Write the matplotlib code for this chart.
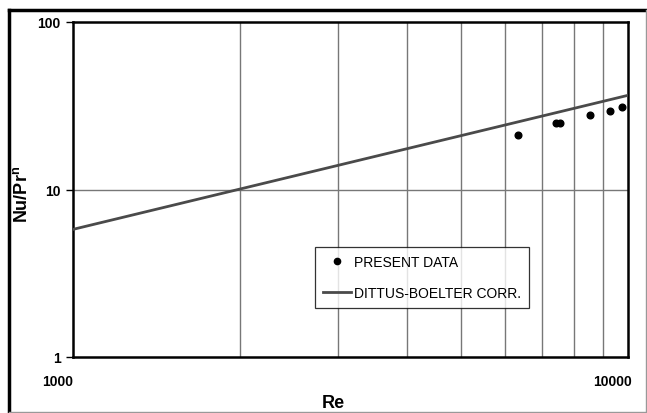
import matplotlib.pyplot as plt
import matplotlib.transforms as mtransforms
from matplotlib.lines import Line2D

plt.rcParams['font.family'] = ['Liberation Sans', 'DejaVu Sans']

# measured points
re_data = [6340, 7410, 7540, 8540, 9280, 9750]
nu_data = [21.2, 24.9, 24.9, 27.8, 29.4, 31.1]

# Dittus-Boelter correlation, 0.023 Re^0.8 (straight on log-log)
re_corr = [1000, 10000]
nu_corr = [5.78, 36.5]

W, H = 647, 414
fig = plt.figure(figsize=(W / 100, H / 100), dpi=100)
ax = fig.add_axes([73 / W, 1 - 358 / H, 555 / W, 335 / H])

ax.set_xscale('log')
ax.set_yscale('log')
ax.set_xlim(1000, 10000)
ax.set_ylim(1, 100)

# grid: vertical at every 1000, horizontal only at 10
for x in range(2000, 10000, 1000):
    ax.axvline(x, color='#777777', lw=1.0, zorder=1)
ax.axhline(10, color='#777777', lw=1.0, zorder=1)

ax.plot(re_corr, nu_corr, color='#4a4a4a', lw=2.0, zorder=3)
ax.plot(re_data, nu_data, 'o', color='black', ms=4.8, zorder=4,
        linestyle='none')

for s in ax.spines.values():
    s.set_linewidth(1.8)
    s.set_color('black')

ax.set_xticks([1000, 10000])
ax.set_xticklabels(['1000', '10000'])
ax.set_yticks([1, 10, 100])
ax.set_yticklabels(['1', '10', '100'])
ax.minorticks_off()
ax.tick_params(axis='x', length=0, pad=12, labelsize=10)
ax.tick_params(axis='y', direction='out', length=5, width=1, pad=4, labelsize=10)
for lbl in ax.get_xticklabels() + ax.get_yticklabels():
    lbl.set_fontweight('bold')

# x tick labels sit a bit left of their positions
offset = mtransforms.ScaledTranslation(-15 / 100, 0, fig.dpi_scale_trans)
for lbl in ax.get_xticklabels():
    lbl.set_transform(lbl.get_transform() + offset)

fig.text(22 / W, 1 - 194 / H, r'Nu/Pr$^\mathregular{n}$', rotation=90,
         ha='center', va='center', fontsize=13, fontweight='bold')
fig.text(333 / W, 2 / H, 'Re', ha='center', va='bottom',
         fontsize=13, fontweight='bold')

handles = [Line2D([], [], marker='o', color='black', ms=4.5, linestyle='none'),
           Line2D([], [], color='#4a4a4a', lw=2)]
leg = ax.legend(handles, ['PRESENT DATA', 'DITTUS-BOELTER CORR.'],
                loc='upper left', bbox_to_anchor=(315 / W, 1 - 248 / H),
                bbox_transform=fig.transFigure, fontsize=10, frameon=True,
                fancybox=False, edgecolor='black', borderpad=0.6,
                labelspacing=1.2, handlelength=2.0, handletextpad=0.2,
                borderaxespad=0)
leg.get_frame().set_linewidth(0.9)
leg.set_zorder(5)

# outer frame
fig.add_artist(Line2D([9 / W, 1], [1 - 11 / H, 1 - 11 / H], color='black',
                      lw=2.5, transform=fig.transFigure))
fig.add_artist(Line2D([9 / W, 9 / W], [0, 1 - 11 / H], color='black',
                      lw=2.5, transform=fig.transFigure))
fig.add_artist(Line2D([645.5 / W, 645.5 / W], [0, 1 - 11 / H], color='#999999',
                      lw=1, transform=fig.transFigure))
fig.add_artist(Line2D([9 / W, 1], [1 / H, 1 / H], color='#999999',
                      lw=1, transform=fig.transFigure))

fig.savefig('out.png', dpi=100)
